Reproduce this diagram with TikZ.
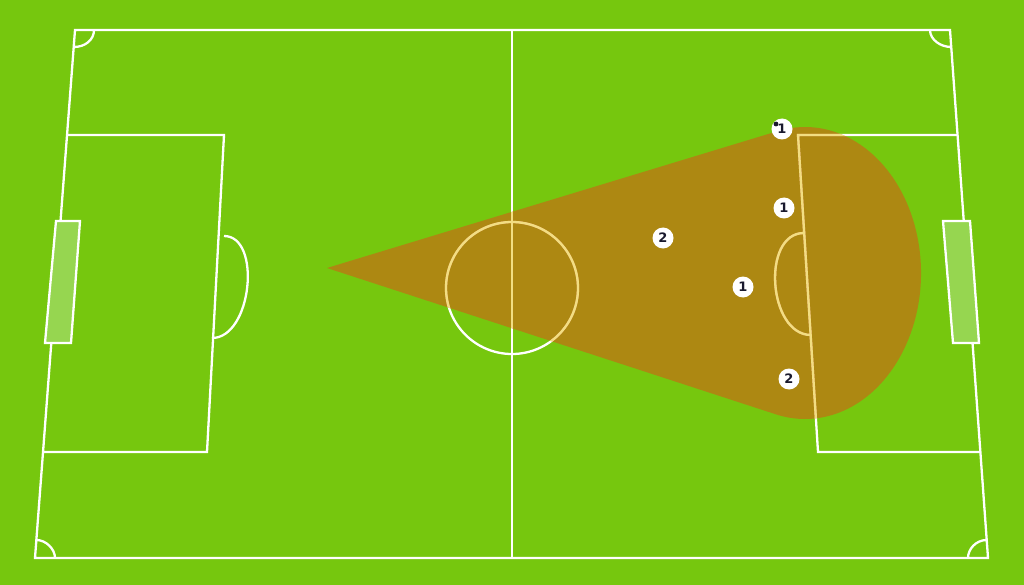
\documentclass[tikz,border=0pt]{standalone}
\usepackage{fontspec}
\setsansfont{DejaVu Sans}
\definecolor{grass}{RGB}{118,199,14}
\definecolor{goalfill}{RGB}{150,214,80}
\definecolor{conecol}{RGB}{210,94,22}
\definecolor{creamline}{RGB}{242,222,130}
\definecolor{digit}{RGB}{25,25,45}
\newcommand{\pitchlines}[1]{%
  \draw[#1] (tl) -- (tr) -- (br) -- (bl) -- cycle;
  \draw[#1] (512,30) -- (512,558);
  \draw[#1] (512,288) circle[radius=66];
  \draw[#1] (67,135) -- (224,135) -- (207,452) -- (43,452);
  \draw[#1] (957.6,135) -- (798,135) -- (818,452) -- (980.4,452);
  \draw[#1] (224,236) .. controls (262,236) and (252,338) .. (212,338);
  \draw[#1] (804,233) .. controls (761,233) and (768,335) .. (811,335);
  \draw[#1] (94,30) .. controls (94,40) and (85,47) .. (74,47);
  \draw[#1] (930,30) .. controls (930,40) and (941,47) .. (951,47);
  \draw[#1] (36.4,540) .. controls (46,540) and (55,549) .. (55,558);
  \draw[#1] (986.7,540) .. controls (976,540) and (968,549) .. (968,558);
}
\newcommand{\conepath}{(apex) -- (777.8,131.1) arc[start angle=-103.57, end angle=104.52, x radius=116, y radius=146] -- cycle}
\begin{document}
\begin{tikzpicture}[x=1pt,y=-1pt,
  pline/.style={white,line width=2.3pt,line join=miter},
  cline/.style={creamline,line width=2.3pt,line join=miter},
  goalbox/.style={draw=white,line width=2.3pt,fill=goalfill},
  cone/.style={fill=conecol,fill opacity=0.6},
  player/.style={circle,fill=white,inner sep=0pt,minimum size=21pt,
    font=\sffamily\bfseries\fontsize{13}{15}\selectfont,text=digit}]
\useasboundingbox (0,0) rectangle (1024,585);
\fill[grass] (0,0) rectangle (1024,585);
\coordinate (tl) at (75,30);
\coordinate (tr) at (950,30);
\coordinate (br) at (988,558);
\coordinate (bl) at (35,558);
\coordinate (apex) at (327,268);
% pitch markings
\pitchlines{pline}
\draw[goalbox] (56,221) -- (80,221) -- (71,343) -- (45,343) -- cycle;
\draw[goalbox] (943,221) -- (970,221) -- (979,343) -- (953,343) -- cycle;
% cone of influence
\fill[cone] \conepath;
\begin{scope}
  \clip \conepath;
  \pitchlines{cline}
\end{scope}
% players
\node[player] (p1) at (782,129) {1};
\node[player] (p2) at (784,208) {1};
\node[player] (p3) at (663,238) {2};
\node[player] (p4) at (743,287) {1};
\node[player] (p5) at (789,379) {2};
\fill[digit] (776,124) circle[radius=2.4];
\end{tikzpicture}
\end{document}
